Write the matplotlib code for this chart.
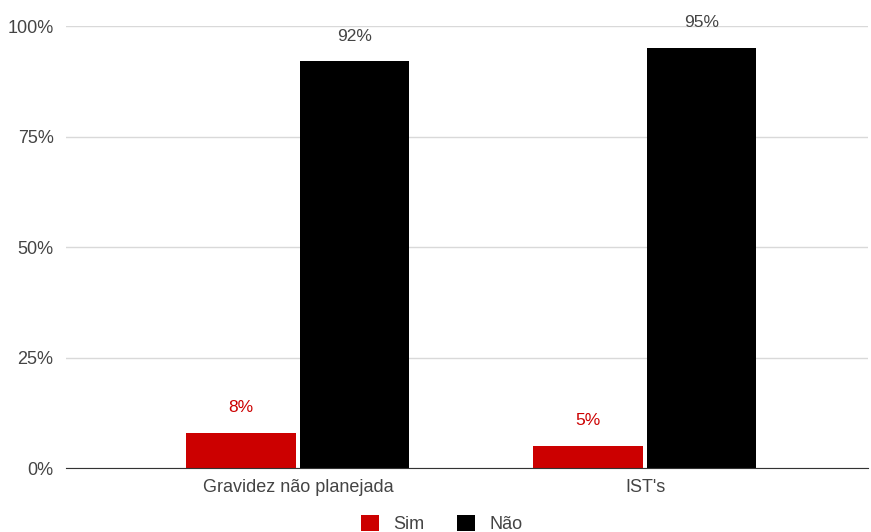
import numpy as np
import matplotlib.pyplot as plt

plt.rcParams['font.family'] = ['Liberation Sans', 'DejaVu Sans']

categorias = ["Gravidez não planejada", "IST's"]
series = ["Sim", "Não"]
sim = [8, 5]
nao = [92, 95]
cores = ["#cc0000", "#000000"]
cor_texto = ["#cc0000", "#444444"]

fig = plt.figure(figsize=(8.71, 5.32), dpi=100)
ax = fig.add_axes([0.0758, 0.1203, 0.9208, 0.8308])

x = np.arange(len(categorias))
w = 0.315
gap = 0.006
for i, (vals, nome) in enumerate(zip([sim, nao], series)):
    pos = x + (i - 0.5) * (w + gap * 2) - 0.003
    ax.bar(pos, vals, width=w, color=cores[i], label=nome, zorder=3)
    for p, v in zip(pos, vals):
        ax.text(p, v + 4.0, f"{v}%", ha="center", va="bottom", fontsize=12.5,
                color=cor_texto[i], zorder=4)

ax.set_xlim(-0.67, 1.64)
ax.set_ylim(0, 100)
ax.set_yticks([0, 25, 50, 75, 100])
ax.set_yticklabels(["0%", "25%", "50%", "75%", "100%"])
ax.set_xticks(x)
ax.set_xticklabels(categorias)
ax.tick_params(length=0, labelsize=13, colors="#444444")
ax.tick_params(axis="y", pad=9)
ax.tick_params(axis="x", pad=8)
ax.grid(axis="y", color="#d9d9d9", linewidth=1, zorder=0)
for s in ["top", "right", "left"]:
    ax.spines[s].set_visible(False)
ax.spines["bottom"].set_color("#333333")
ax.spines["bottom"].set_zorder(5)

fig.legend(loc="lower center", ncol=2, frameon=False, bbox_to_anchor=(0.507, -0.032),
           fontsize=13, labelcolor="#444444", handlelength=1.0, handleheight=1.0,
           columnspacing=1.8, handletextpad=0.8)

fig.savefig("out.png", dpi=100)
